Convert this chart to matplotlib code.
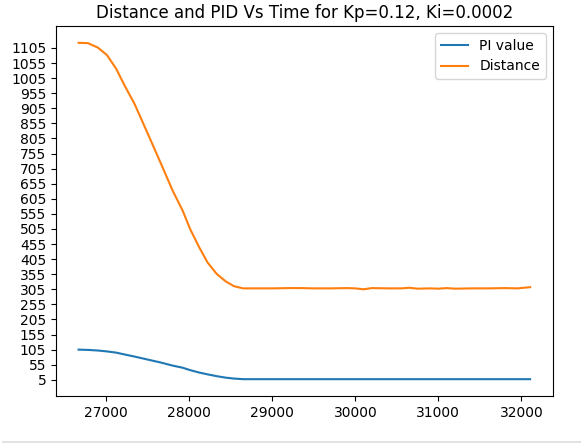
import matplotlib
matplotlib.use("Agg")
import matplotlib.pyplot as plt
import numpy as np

# time stamps (ms)
times = [26667, 26780, 26900, 27010, 27120, 27220, 27340, 27500, 27660, 27800,
         27920, 28010, 28120, 28220, 28330, 28440, 28540, 28650, 28800, 29000,
         29200, 29350, 29500, 29700, 29900, 30000, 30100, 30200, 30400, 30550,
         30650, 30750, 30900, 31000, 31100, 31200, 31400, 31600, 31800, 31950,
         32105]

pi_value = [105, 104, 102, 99, 95, 89, 82, 72, 62, 52,
            45, 37, 29, 23, 17, 12, 9, 7, 7, 7,
            7, 7, 7, 7, 7, 7, 7, 7, 7, 7,
            7, 7, 7, 7, 7, 7, 7, 7, 7, 7,
            7]

distance = [1122, 1121, 1106, 1081, 1036, 981, 920, 821, 721, 632,
            566, 505, 444, 394, 356, 331, 315, 308, 308, 308,
            309, 309, 308, 308, 309, 308, 305, 309, 308, 308,
            310, 307, 308, 307, 309, 307, 308, 308, 309, 308,
            312]

fig = plt.figure(figsize=(5.81, 4.43), dpi=100)
ax = fig.add_axes([56 / 581, 1 - 396 / 443, (552.7 - 56) / 581, (396 - 26) / 443])

ax.plot(times, pi_value, label='PI value')
ax.plot(times, distance, label='Distance')

ax.set_yticks(np.arange(5, 1106, 50))
ax.set_title("Distance and PID Vs Time for Kp=0.12, Ki=0.0002")
ax.legend(loc='upper right')

# thin grey rule at the very bottom of the screenshot
fig.add_artist(plt.Line2D([0.005, 1.0], [1.5 / 443, 1.5 / 443], color='#dddddd', lw=1.2))

plt.savefig("out.png", dpi=100)
